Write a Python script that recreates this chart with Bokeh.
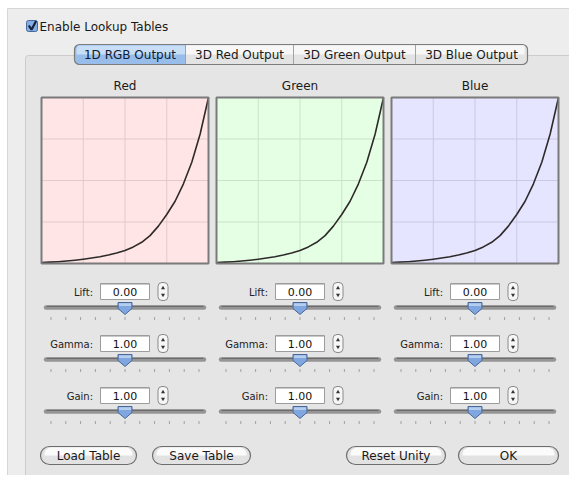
from bokeh.plotting import figure
from bokeh.models import Range1d
from bokeh.core.properties import value
from bokeh.embed import file_html
from bokeh.resources import INLINE

# ---------------- data ----------------
curve_x = [0.0, 0.05, 0.1, 0.15, 0.2, 0.25, 0.3, 0.35, 0.4, 0.45, 0.5,
           0.55, 0.6, 0.65, 0.7, 0.75, 0.8, 0.85, 0.9, 0.95, 1.0]
red_y   = [0.005, 0.008, 0.011, 0.015, 0.02, 0.026, 0.033, 0.041, 0.051, 0.063, 0.078,
           0.1, 0.128, 0.168, 0.225, 0.295, 0.375, 0.48, 0.61, 0.78, 1.0]
green_y = [0.005, 0.008, 0.011, 0.015, 0.02, 0.026, 0.033, 0.041, 0.051, 0.063, 0.078,
           0.1, 0.128, 0.168, 0.225, 0.295, 0.375, 0.48, 0.61, 0.78, 1.0]
blue_y  = [0.005, 0.008, 0.011, 0.015, 0.02, 0.026, 0.033, 0.041, 0.051, 0.063, 0.078,
           0.1, 0.128, 0.168, 0.225, 0.295, 0.375, 0.48, 0.61, 0.78, 1.0]
panel_names = ["Red", "Green", "Blue"]
grid_ticks = [0.25, 0.5, 0.75]
param_labels = ["Lift:", "Gamma:", "Gain:"]
param_values = ["0.00", "1.00", "1.00"]
tab_labels = ["1D RGB Output", "3D Red Output", "3D Green Output", "3D Blue Output"]
button_labels = ["Load Table", "Save Table", "Reset Unity", "OK"]
checkbox_label = "Enable Lookup Tables"

# ---------------- styles / layout ----------------
FONT = value("DejaVu Sans")
W, H = 569, 475
panel_y = [red_y, green_y, blue_y]
panel_fill = ["#ffe5e5", "#e5ffe5", "#e5e5ff"]
panel_grid = ["#e3c9c9", "#c9e3c9", "#c9c9e6"]
box_left = [41, 216, 391]
box_w = 167
box_top, box_bottom = 97, 263
centers = [124.5, 299.5, 474.5]
row_y = [291, 343, 395]
tab_edges = [74, 185, 293, 415, 527]
btn_edges = [(40, 136), (152, 250), (346, 445), (458, 558)]

p = figure(width=W, height=H, x_range=Range1d(0, W), y_range=Range1d(H, 0),
           output_backend="svg", toolbar_location=None, x_axis_type=None, y_axis_type=None,
           min_border=0)
p.outline_line_color = None
p.background_fill_color = "white"
p.border_fill_color = "white"
p.xgrid.visible = False
p.ygrid.visible = False

def txt(x, y, t, size="12px", align="center", color="#1a1a1a", **kw):
    p.text(x=[x], y=[y], text=[t], text_align=align, text_baseline="middle",
           text_font=FONT, text_font_size=size, text_color=color, **kw)

# dialog background
p.quad(left=[7], right=[600], top=[8], bottom=[500], fill_color="#ededed", line_color="#d6d6d6")
# inner panel
p.quad(left=[25], right=[573], top=[55], bottom=[478], fill_color="#e5e5e5",
       line_color="#cbcbcb", border_radius=3)

# checkbox
p.quad(left=[26], right=[37], top=[20], bottom=[31], fill_color="#86aee4",
       line_color="#44699e", border_radius=2)
p.line(x=[28.3, 31.0, 35.6], y=[25.0, 29.2, 20.5], line_color="#14233a", line_width=2.2)
txt(39, 26, checkbox_label, align="left")

# tabs (segmented control)
ty0, ty1 = 44, 64
p.quad(left=[tab_edges[0]], right=[tab_edges[-1]], top=[ty0], bottom=[ty1],
       fill_color="#e3e3e3", line_color=None, border_radius=5)
p.quad(left=[tab_edges[1]], right=[tab_edges[-1] - 3], top=[ty0 + 1], bottom=[54],
       fill_color="#f7f7f7", line_color=None)
p.quad(left=[tab_edges[0]], right=[tab_edges[1]], top=[ty0], bottom=[ty1],
       fill_color="#98bdeb", line_color=None, border_radius=(5, 0, 0, 5))
p.quad(left=[tab_edges[0] + 2], right=[tab_edges[1]], top=[ty0 + 1], bottom=[54],
       fill_color="#c8ddf6", line_color=None, border_radius=(4, 0, 0, 0))
p.segment(x0=tab_edges[1:-1], y0=[ty0] * 3, x1=tab_edges[1:-1], y1=[ty1] * 3,
          line_color="#a3a3a3", line_width=1)
p.quad(left=[tab_edges[0]], right=[tab_edges[-1]], top=[ty0], bottom=[ty1],
       fill_color=None, line_color="#7c7c7c", line_width=1.2, border_radius=5)
for i, lab in enumerate(tab_labels):
    cx = (tab_edges[i] + tab_edges[i + 1]) / 2
    txt(cx, 54.5, lab, color="#0e1c33" if i == 0 else "#1a1a1a")

# curve panels, each drawn through its own data range mapping 0..1 onto its box
bh = box_bottom - box_top
p.extra_y_ranges = {"curve": Range1d(start=(box_bottom - H) / bh, end=box_bottom / bh)}
xr = {}
for i, name in enumerate(panel_names):
    l = box_left[i]
    xr[name] = Range1d(start=(0 - l) / box_w, end=(W - l) / box_w)
p.extra_x_ranges = xr

for i, name in enumerate(panel_names):
    kw = dict(x_range_name=name, y_range_name="curve")
    txt(centers[i], 85, name)
    p.quad(left=[0], right=[1], bottom=[0], top=[1], fill_color=panel_fill[i], line_color=None, **kw)
    n = len(grid_ticks)
    p.segment(x0=grid_ticks, y0=[0] * n, x1=grid_ticks, y1=[1] * n,
              line_color=panel_grid[i], line_width=1, **kw)
    p.segment(x0=[0] * n, y0=grid_ticks, x1=[1] * n, y1=grid_ticks,
              line_color=panel_grid[i], line_width=1, **kw)
    p.line(x=curve_x, y=panel_y[i], line_color="#2e2a2a", line_width=1.6,
           line_join="round", **kw)
    p.quad(left=[0], right=[1], bottom=[0], top=[1], fill_color=None,
           line_color="#7a7a7a", line_width=2, **kw)

# sliders / fields
for i in range(3):
    cx = centers[i]
    for j in range(3):
        yc = row_y[j]
        txt(cx - 32, yc + 0.5, param_labels[j], size="10px", align="right", color="#222222")
        # text field
        p.quad(left=[cx - 24.5], right=[cx + 24.5], top=[yc - 8], bottom=[yc + 8],
               fill_color="white", line_color="#9c9c9c")
        p.segment(x0=[cx - 24], y0=[yc - 7], x1=[cx + 24], y1=[yc - 7], line_color="#c9c9c9")
        txt(cx, yc + 0.5, param_values[j], size="11px", color="#111111")
        # stepper
        p.quad(left=[cx + 33], right=[cx + 43], top=[yc - 9], bottom=[yc + 9],
               fill_color="#f6f6f6", line_color="#8a8a8a", border_radius=4)
        p.scatter(x=[cx + 38], y=[yc - 3.5], marker="triangle", size=4,
                  fill_color="#333333", line_color=None)
        p.scatter(x=[cx + 38], y=[yc + 3.5], marker="inverted_triangle", size=4,
                  fill_color="#333333", line_color=None)
        # track
        sy = yc + 16
        p.segment(x0=[cx - 79], y0=[sy], x1=[cx + 79], y1=[sy], line_color="#959595",
                  line_width=4.5, line_cap="round")
        p.segment(x0=[cx - 78], y0=[sy - 1.2], x1=[cx + 78], y1=[sy - 1.2],
                  line_color="#6c6c6c", line_width=1.2, line_cap="round")
        # ticks
        tx = [cx - 74 + k * 14.8 for k in range(11)]
        p.segment(x0=tx, y0=[sy + 9.5] * 11, x1=tx, y1=[sy + 12.5] * 11,
                  line_color="#a0a0a0", line_width=1)
        # thumb
        p.patches(xs=[[cx - 7, cx + 7, cx + 7, cx, cx - 7]],
                  ys=[[sy - 5, sy - 5, sy + 1, sy + 7, sy + 1]],
                  fill_color="#7fa6de", line_color="#4a6797", line_width=1)
        p.quad(left=[cx - 6], right=[cx + 6], top=[sy - 4.2], bottom=[sy - 1.5],
               fill_color="#b5cdef", line_color=None)

# buttons
for (l, r), lab in zip(btn_edges, button_labels):
    p.quad(left=[l], right=[r], top=[446], bottom=[464], fill_color="#e2e2e2",
           line_color=None, border_radius=9)
    p.quad(left=[l + 4], right=[r - 4], top=[447], bottom=[455], fill_color="#fbfbfb",
           line_color=None, border_radius=(7, 7, 0, 0))
    p.quad(left=[l], right=[r], top=[446], bottom=[464], fill_color=None,
           line_color="#6e6e6e", line_width=1.2, border_radius=9)
    txt((l + r) / 2, 455.5, lab)

open("out.html", "w").write(file_html(p, INLINE))
